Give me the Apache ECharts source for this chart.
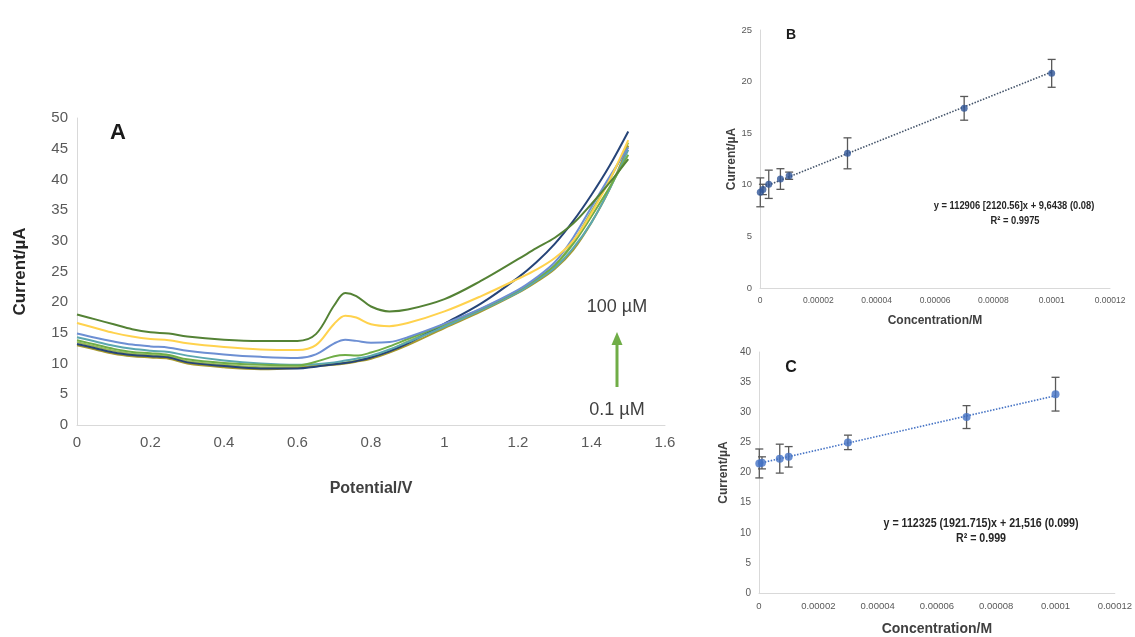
<!DOCTYPE html>
<html><head><meta charset="utf-8">
<script src="https://cdn.jsdelivr.net/npm/echarts@6/dist/echarts.min.js"></script>
<style>html,body{margin:0;padding:0;background:#fff}#c{width:1135px;height:637px}</style>
</head><body><div id="c"></div>
<script>
// ---- Panel A: DPV curves (potential in V, current in µA) ----
const potentials = [0,0.05,0.1,0.15,0.2,0.25,0.3,0.4,0.5,0.6,0.65,0.7,0.73,0.76,0.8,0.85,0.9,1.0,1.1,1.2,1.25,1.3,1.35,1.4,1.45,1.5];
const curveNames = ['0.1 µM','1 µM','3 µM','7 µM','10 µM','30 µM','70 µM','100 µM'];
const curveColors = ['#9bbb59','#a89a2c','#264478','#5ba7b0','#70ad47','#6d8fd3','#ffd24d','#548235'];
const curve1 = [13.5,12.8,12.1,11.6,11.4,11.2,10.4,9.8,9.4,9.4,9.7,10.0,10.2,10.5,11.1,12.2,13.6,16.2,18.8,21.8,23.7,26.0,29.8,34.8,40.0,46.0];
const curve2 = [13.0,12.3,11.6,11.2,11.0,10.8,10.0,9.4,9.1,9.3,9.6,9.8,10.0,10.3,10.8,11.8,13.0,15.8,18.5,21.5,23.3,25.4,28.5,33.0,38.5,45.5];
const curve3 = [13.2,12.5,11.8,11.4,11.2,11.0,10.2,9.6,9.2,9.2,9.5,9.9,10.1,10.4,11.0,12.0,13.3,16.5,19.8,24.0,26.5,29.5,33.2,37.5,42.3,47.8];
const curve4 = [14.3,13.6,12.9,12.4,12.1,11.9,11.3,10.5,10.0,9.8,9.9,10.2,10.5,10.8,11.3,12.3,13.5,16.0,18.7,21.6,23.5,25.6,28.8,33.0,38.5,44.8];
const curve5 = [13.8,13.1,12.4,11.9,11.7,11.4,10.7,10.1,9.8,9.7,10.3,11.2,11.4,11.3,11.8,12.8,14.0,16.4,18.9,21.9,23.8,26.0,29.5,34.0,38.8,44.0];
const curve6 = [14.9,14.2,13.6,13.1,12.8,12.6,12.1,11.5,11.1,10.9,11.5,13.3,13.9,13.7,13.4,13.5,14.3,16.5,19.0,22.0,24.0,26.5,30.5,35.5,40.5,45.2];
const curve7 = [16.6,15.8,15.0,14.4,14.0,13.8,13.3,12.7,12.3,12.2,13.0,16.5,17.8,17.5,16.4,16.1,16.6,18.5,21.0,23.8,25.3,27.2,30.0,34.5,40.0,46.4];
const curve8 = [18.0,17.2,16.4,15.6,15.1,14.9,14.4,13.9,13.7,13.7,14.8,19.5,21.5,21.0,19.3,18.5,18.8,20.5,23.5,27.0,28.8,30.5,32.8,36.0,39.5,43.3];
const curves = [curve1,curve2,curve3,curve4,curve5,curve6,curve7,curve8];

// ---- Panel B: calibration ----
const concB = [0.0000001,0.000001,0.000003,0.000007,0.00001,0.00003,0.00007,0.0001];
const currB = [9.27,9.55,10.05,10.56,10.88,13.05,17.41,20.8];
const errB  = [1.4,0.5,1.37,1.0,0.35,1.5,1.15,1.35];
const slopeB = 112906, interceptB = 9.6438;

// ---- Panel C: calibration ----
const concC = [0.0000001,0.000001,0.000007,0.00001,0.00003,0.00007,0.0001];
const currC = [21.5,21.6,22.3,22.6,25.0,29.2,33.0];
const errC  = [2.4,1.0,2.4,1.7,1.2,1.9,2.8];
const slopeC = 112325, interceptC = 21.516;

const concTickLabels = ['0','0.00002','0.00004','0.00006','0.00008','0.0001','0.00012'];
const trendX = [0, 0.0001];

const SANS = "'Liberation Sans',Arial,sans-serif";

const chart = echarts.init(document.getElementById('c'), null, {renderer:'canvas'});

function errSeries(xi, yi, conc, curr, err){
  return {
    type:'custom', xAxisIndex:xi, yAxisIndex:yi, z:3, silent:true,
    data: conc.map((c,i)=>[c, curr[i]-err[i], curr[i]+err[i]]),
    renderItem:(params, api)=>{
      const lo = api.coord([api.value(0), api.value(1)]);
      const hi = api.coord([api.value(0), api.value(2)]);
      const w = 4;
      const st = {stroke:'#595959', lineWidth:1.3};
      return {type:'group', children:[
        {type:'line', shape:{x1:lo[0],y1:lo[1],x2:hi[0],y2:hi[1]}, style:st},
        {type:'line', shape:{x1:lo[0]-w,y1:lo[1],x2:lo[0]+w,y2:lo[1]}, style:st},
        {type:'line', shape:{x1:hi[0]-w,y1:hi[1],x2:hi[0]+w,y2:hi[1]}, style:st}
      ]};
    }
  };
}

const axisLineGray = {show:true, lineStyle:{color:'#d9d9d9', width:1}};
function concAxis(gi, fs, nameFs, gap){
  return {type:'value', gridIndex:gi, min:0, max:0.00012, interval:0.00002,
    axisLine:axisLineGray, axisTick:{show:false}, splitLine:{show:false},
    axisLabel:{color:'#595959', fontSize:fs, fontFamily:SANS, margin:8,
      formatter:v=>concTickLabels[Math.round(v/0.00002)]},
    name:'Concentration/M', nameLocation:'middle', nameGap:gap,
    nameTextStyle:{color:'#404040', fontWeight:'bold', fontSize:nameFs, fontFamily:SANS}};
}
function currAxis(gi, max, fs, nameFs, gap){
  return {type:'value', gridIndex:gi, min:0, max:max, interval:5,
    axisLine:axisLineGray, axisTick:{show:false}, splitLine:{show:false},
    axisLabel:{color:'#595959', fontSize:fs, fontFamily:SANS, margin:8},
    name:'Current/µA', nameLocation:'middle', nameGap:gap,
    nameTextStyle:{color:'#404040', fontWeight:'bold', fontSize:nameFs, fontFamily:SANS}};
}

const series = [];
curves.forEach((cv,k)=>{
  series.push({type:'line', name:curveNames[k], xAxisIndex:0, yAxisIndex:0, smooth:0.35,
    showSymbol:false, silent:true, lineStyle:{color:curveColors[k], width:2},
    data: potentials.map((p,i)=>[p, cv[i]])});
});
// B
series.push({type:'line', xAxisIndex:1, yAxisIndex:1, showSymbol:false, silent:true, z:2,
  lineStyle:{color:'#44546a', width:1.6, type:[1.5,1.5]},
  data: trendX.map(x=>[x, interceptB + slopeB*x])});
series.push(errSeries(1,1,concB,currB,errB));
series.push({type:'scatter', xAxisIndex:1, yAxisIndex:1, symbol:'circle', symbolSize:7, z:4,
  itemStyle:{color:'#2f5597'}, data: concB.map((c,i)=>[c,currB[i]])});
// C
series.push({type:'line', xAxisIndex:2, yAxisIndex:2, showSymbol:false, silent:true, z:2,
  lineStyle:{color:'#4472c4', width:1.6, type:[1.5,1.5]},
  data: trendX.map(x=>[x, interceptC + slopeC*x])});
series.push(errSeries(2,2,concC,currC,errC));
series.push({type:'scatter', xAxisIndex:2, yAxisIndex:2, symbol:'circle', symbolSize:8, z:4,
  itemStyle:{color:'#4472c4'}, data: concC.map((c,i)=>[c,currC[i]])});

const option = {
  animation:false,
  backgroundColor:'#fff',
  grid:[
    {left:77, top:118, width:588, height:307},
    {left:760, top:30, width:350, height:258},
    {left:759, top:352, width:361, height:242}
  ],
  xAxis:[
    {type:'value', gridIndex:0, min:0, max:1.6, interval:0.2,
      axisLine:axisLineGray, axisTick:{show:false}, splitLine:{show:false},
      axisLabel:{color:'#595959', fontSize:15, fontFamily:SANS, margin:10},
      name:'Potential/V', nameLocation:'middle', nameGap:56,
      nameTextStyle:{color:'#404040', fontWeight:'bold', fontSize:16, fontFamily:SANS}},
    concAxis(1, 8.5, 12, 27),
    concAxis(2, 9.5, 14, 29)
  ],
  yAxis:[
    {type:'value', gridIndex:0, min:0, max:50, interval:5,
      axisLine:axisLineGray, axisTick:{show:false}, splitLine:{show:false},
      axisLabel:{color:'#595959', fontSize:15, fontFamily:SANS, margin:9},
      name:'Current/µA', nameLocation:'middle', nameGap:48,
      nameTextStyle:{color:'#262626', fontWeight:'bold', fontSize:17, fontFamily:SANS}},
    currAxis(1, 25, 9.5, 12, 22),
    currAxis(2, 40, 10, 12, 29)
  ],
  series: series,
  graphic:[
    {type:'text', x:118, y:133, style:{text:'A', font:"bold 22px "+SANS, fill:'#1a1a1a', align:'center', verticalAlign:'middle'}},
    {type:'text', x:791, y:35, style:{text:'B', font:"bold 14px "+SANS, fill:'#1a1a1a', align:'center', verticalAlign:'middle'}},
    {type:'text', x:791, y:368, style:{text:'C', font:"bold 16px "+SANS, fill:'#1a1a1a', align:'center', verticalAlign:'middle'}},
    {type:'text', x:617, y:307, style:{text:'100 µM', font:"18px "+SANS, fill:'#404040', align:'center', verticalAlign:'middle'}},
    {type:'text', x:617, y:410, style:{text:'0.1 µM', font:"18px "+SANS, fill:'#404040', align:'center', verticalAlign:'middle'}},
    {type:'line', shape:{x1:617, y1:387, x2:617, y2:343}, style:{stroke:'#70ad47', lineWidth:3}},
    {type:'polygon', shape:{points:[[617,332],[611.5,345],[622.5,345]]}, style:{fill:'#70ad47'}},
    {type:'text', x:1014, y:206, scaleX:0.85, style:{text:'y = 112906 [2120.56]x + 9,6438 (0.08)', font:"bold 11px "+SANS, fill:'#262626', align:'center', verticalAlign:'middle'}},
    {type:'text', x:1015, y:221, scaleX:0.85, style:{text:'R² = 0.9975', font:"bold 11px "+SANS, fill:'#262626', align:'center', verticalAlign:'middle'}},
    {type:'text', x:981, y:523, scaleX:0.82, style:{text:'y = 112325 (1921.715)x + 21,516 (0.099)', font:"bold 13px "+SANS, fill:'#262626', align:'center', verticalAlign:'middle'}},
    {type:'text', x:981, y:538, scaleX:0.82, style:{text:'R² = 0.999', font:"bold 13px "+SANS, fill:'#262626', align:'center', verticalAlign:'middle'}}
  ]
};
chart.setOption(option);
</script></body></html>
